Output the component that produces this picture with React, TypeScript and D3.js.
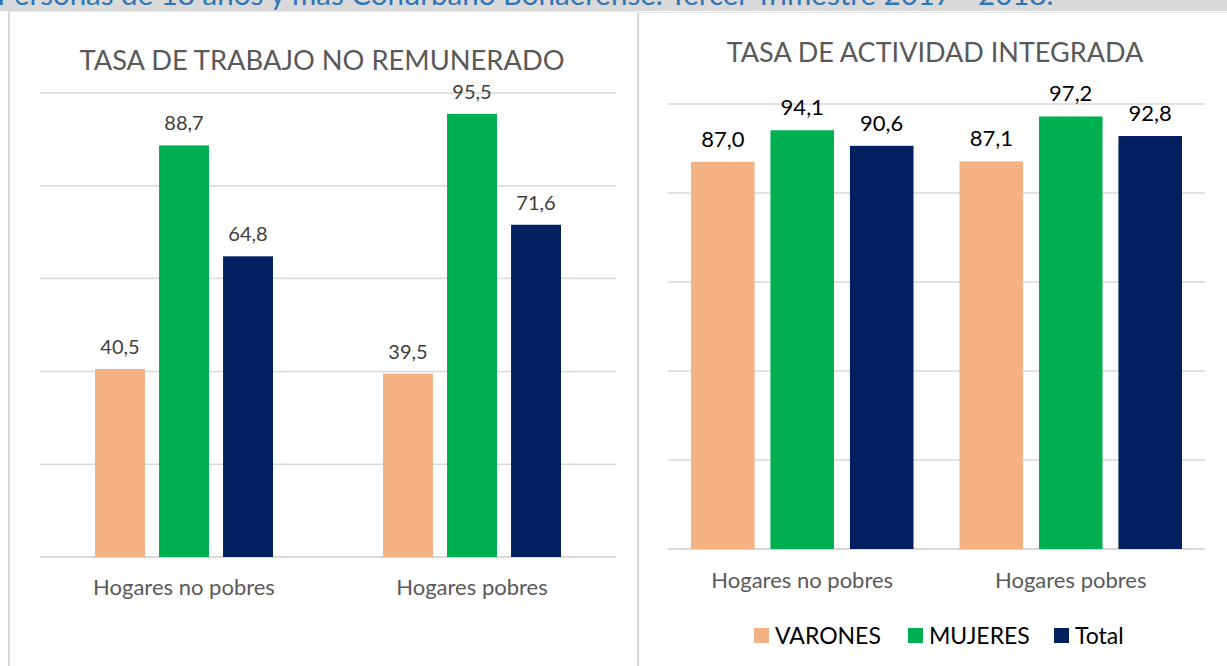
import React from 'react';
import * as d3 from 'd3';

const categories = ['Hogares no pobres', 'Hogares pobres'];
const seriesNames = ['VARONES', 'MUJERES', 'Total'];
const seriesColors = ['#f4b183', '#00b050', '#002060'];

const trabajoValues = [
  [40.5, 88.7, 64.8],
  [39.5, 95.5, 71.6],
];
const actividadValues = [
  [87.0, 94.1, 90.6],
  [87.1, 97.2, 92.8],
];
const yTicks = [0, 20, 40, 60, 80, 100];

const headerText = 'Personas de 18 años y más Conurbano Bonaerense. Tercer Trimestre 2017 - 2018.';
const font = 'Lato, "Open Sans", sans-serif';

type PanelProps = {
  title: string;
  values: number[][];
  x0: number;
  x1: number;
  yTop: number;
  yBase: number;
  titleY: number;
  titleX: number;
  titleSize: number;
  barPadOuter: number;
  barGap: number;
  labelColor: string;
  labelSize: number;
  catY: number;
};

const Panel = (p: PanelProps) => {
  const x = d3.scaleBand<string>().domain(categories).range([p.x0, p.x1]).paddingInner(0).paddingOuter(0);
  const y = d3.scaleLinear().domain([0, 100]).range([p.yBase, p.yTop]);
  const groupW = x.bandwidth() - 2 * p.barPadOuter;
  const xi = d3.scaleBand<string>().domain(seriesNames).range([0, groupW]).paddingInner(p.barGap);

  return (
    <g>
      <text x={p.titleX} y={p.titleY} textAnchor="middle" fontSize={p.titleSize} fill="#595959" fontFamily={font}>
        {p.title}
      </text>
      {yTicks.map(t => (
        <line key={t} x1={p.x0} x2={p.x1} y1={y(t)} y2={y(t)} stroke="#d9d9d9" strokeWidth={t === 0 ? 2 : 1.5} />
      ))}
      {categories.map((c, ci) => (
        <g key={c} transform={`translate(${(x(c) ?? 0) + p.barPadOuter},0)`}>
          {seriesNames.map((s, si) => {
            const v = p.values[ci][si];
            return (
              <g key={s}>
                <rect x={xi(s)} y={y(v)} width={xi.bandwidth()} height={p.yBase - y(v)} fill={seriesColors[si]} />
                <text x={(xi(s) ?? 0) + xi.bandwidth() / 2} y={y(v) - 15} textAnchor="middle" fontSize={p.labelSize} fill={p.labelColor} fontFamily={font}>
                  {v.toFixed(1).replace('.', ',')}
                </text>
              </g>
            );
          })}
          <text x={x.bandwidth() / 2 - p.barPadOuter} y={p.catY} textAnchor="middle" fontSize={22} fill="#595959" fontFamily={font}>
            {c}
          </text>
        </g>
      ))}
    </g>
  );
};

export default function App() {
  const legendX = [754, 908, 1054];
  return (
    <div style={{ position: 'absolute', left: 0, top: 0 }}>
      <svg width={1227} height={666} style={{ display: 'block', background: '#fff' }}>
        <rect x={0} y={0} width={1227} height={11} fill="#d9d9d9" />
        <text x={-3} y={5} fontSize={29.5} fill="#2e75b6" fontFamily={font}>{headerText}</text>
        <rect x={0} y={11} width={1227} height={655} fill="#fff" />
        <line x1={9} x2={9} y1={11} y2={666} stroke="#d9d9d9" strokeWidth={2} />
        <line x1={9} x2={636} y1={11.5} y2={11.5} stroke="#e6e6e6" strokeWidth={1} />
        <line x1={638} x2={638} y1={12} y2={666} stroke="#d9d9d9" strokeWidth={2} />
        <line x1={638} x2={1227} y1={12.5} y2={12.5} stroke="#e6e6e6" strokeWidth={1} />

        <Panel title="TASA DE TRABAJO NO REMUNERADO" values={trabajoValues}
          x0={40} x1={616} yTop={93} yBase={557} titleX={322} titleY={70} titleSize={27.3}
          barPadOuter={55} barGap={0.22} labelColor="#404040" labelSize={20} catY={595} />
        <Panel title="TASA DE ACTIVIDAD INTEGRADA" values={actividadValues}
          x0={668} x1={1205} yTop={104} yBase={549} titleX={935} titleY={62} titleSize={27}
          barPadOuter={23} barGap={0.2} labelColor="#000" labelSize={22} catY={588} />

        {seriesNames.map((s, i) => (
          <g key={s}>
            <rect x={legendX[i]} y={628} width={15} height={15} fill={seriesColors[i]} />
            <text x={legendX[i] + 21} y={644} fontSize={23} fill="#000" fontFamily={font}>{s}</text>
          </g>
        ))}
      </svg>
    </div>
  );
}
